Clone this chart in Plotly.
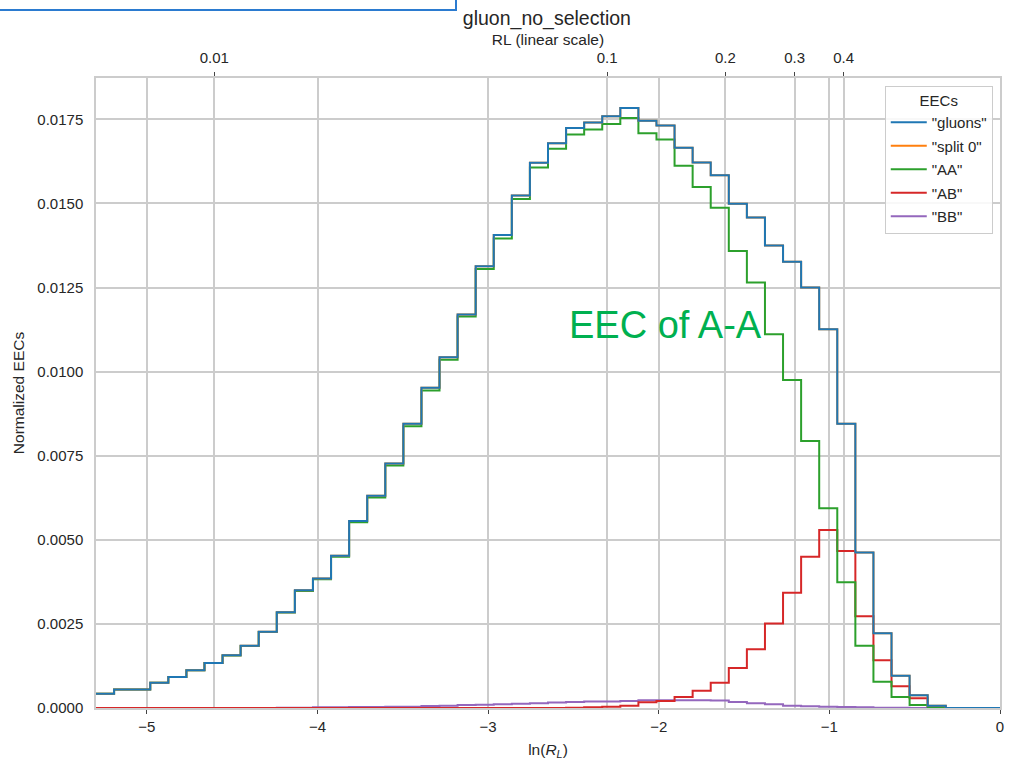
import numpy as np
import plotly.graph_objects as go

# ---- data (bin heights) ----
n_bins = 50
rl_min, rl_max = 0.005, 1.0

gluons = [0.00042, 0.00055, 0.00055, 0.00075, 0.00092, 0.00112, 0.00134, 0.00157, 0.00185, 0.00227,
          0.00285, 0.00350, 0.00385, 0.00453, 0.00556, 0.00631, 0.00727, 0.00845, 0.00952, 0.01043,
          0.01170, 0.01313, 0.01406, 0.01524, 0.01621, 0.01679, 0.01724, 0.01741, 0.01759, 0.01784,
          0.01746, 0.01732, 0.01666, 0.01622, 0.01584, 0.01499, 0.01458, 0.01375, 0.01327, 0.01250,
          0.01126, 0.00845, 0.00462, 0.00222, 0.00096, 0.00038, 0.00007, 0.0, 0.0, 0.0]
split0 = list(gluons)
AA = [0.00042, 0.00055, 0.00055, 0.00075, 0.00092, 0.00112, 0.00134, 0.00156, 0.00184, 0.00226,
      0.00284, 0.00348, 0.00383, 0.00450, 0.00552, 0.00626, 0.00721, 0.00838, 0.00944, 0.01035,
      0.01164, 0.01305, 0.01396, 0.01513, 0.01607, 0.01663, 0.01705, 0.01720, 0.01736, 0.01754,
      0.01709, 0.01690, 0.01612, 0.01549, 0.01487, 0.01359, 0.01265, 0.01111, 0.00975, 0.00794,
      0.00594, 0.00374, 0.00185, 0.00078, 0.00033, 0.00009, 0.00002, 0.0, 0.0, 0.0]
AB = [0.0, 0.0, 0.0, 0.0, 0.0, 0.0, 0.0, 0.0, 0.0, 0.0,
      0.0, 0.0, 0.0, 0.0, 0.0, 0.0, 0.0, 0.0, 0.0, 0.0,
      0.0, 0.0, 0.0, 0.0, 0.0, 0.0, 0.00001, 0.00002, 0.00004, 0.00007,
      0.00017, 0.00021, 0.00033, 0.00051, 0.00075, 0.00119, 0.00175, 0.00251, 0.00343, 0.00450,
      0.00529, 0.00467, 0.00273, 0.00142, 0.00065, 0.00029, 0.00005, 0.0, 0.0, 0.0]
BB = [0.0, 0.0, 0.0, 0.0, 0.0, 0.0, 0.0, 0.0, 0.0, 0.0,
      0.00001, 0.00001, 0.00002, 0.00002, 0.00003, 0.00003, 0.00004, 0.00004, 0.00006, 0.00007,
      0.00009, 0.00010, 0.00011, 0.00013, 0.00014, 0.00016, 0.00018, 0.00019, 0.00019, 0.00021,
      0.00023, 0.00023, 0.00023, 0.00023, 0.00022, 0.00018, 0.00014, 0.00011, 0.00007, 0.00005,
      0.00004, 0.00003, 0.00002, 0.00001, 0.00001, 0.0, 0.0, 0.0, 0.0, 0.0]

series_names = ['"gluons"', '"split 0"', '"AA"', '"AB"', '"BB"']
series_values = [gluons, split0, AA, AB, BB]
series_colors = ["#1f77b4", "#ff7f0e", "#2ca02c", "#d62728", "#9467bd"]

top_tick_vals = [0.01, 0.1, 0.2, 0.3, 0.4]
top_tick_text = ["0.01", "0.1", "0.2", "0.3", "0.4"]
bottom_ticks = [-5, -4, -3, -2, -1, 0]
bottom_tick_text = ["−5", "−4", "−3", "−2", "−1", "0"]
y_ticks = [0.0, 0.0025, 0.005, 0.0075, 0.01, 0.0125, 0.015, 0.0175]

edges = np.linspace(np.log(rl_min), np.log(rl_max), n_bins + 1)
FONT = "Arial, Liberation Sans, sans-serif"
GRID = "#cccccc"
TXT = "#262626"

fig = go.Figure()
for i in reversed(range(len(series_names))):
    vals = series_values[i]
    fig.add_trace(go.Scatter(
        x=list(edges), y=list(vals) + [vals[-1]],
        mode="lines", line=dict(shape="hv", color=series_colors[i], width=2),
        name=series_names[i], legendrank=i + 1, legendgroup=f"g{i}",
    ))

fig.add_trace(go.Scatter(x=[edges[0], edges[-1]], y=[0, 0], xaxis="x2", mode="lines",
                         line=dict(width=0), showlegend=False, hoverinfo="skip"))

xr = [float(edges[0]), float(edges[-1])]
fig.update_layout(
    width=1009, height=762,
    margin=dict(l=96, r=9, t=78, b=54, autoexpand=False),
    paper_bgcolor="white", plot_bgcolor="white",
    font=dict(family=FONT, size=15, color=TXT),
    title=dict(text="gluon_no_selection", x=0.542, xanchor="center", y=0.976, yanchor="middle",
               font=dict(size=19.5, color=TXT)),
    xaxis=dict(range=xr, tickvals=bottom_ticks, ticktext=bottom_tick_text, automargin=False,
               showgrid=True, gridcolor=GRID, gridwidth=1.5, zeroline=False,
               showline=True, linecolor=GRID, linewidth=1.5,
               ticks="outside", ticklen=4, tickcolor="#444", tickwidth=1,
               tickfont=dict(size=15),
               title=dict(text="ln(<i>R</i><sub><i>L</i></sub>)", standoff=10, font=dict(size=15.5))),
    xaxis2=dict(range=xr, overlaying="x", side="top", anchor="y", automargin=False,
                tickvals=[float(np.log(v)) for v in top_tick_vals], ticktext=top_tick_text,
                showgrid=True, gridcolor=GRID, gridwidth=1.5, zeroline=False,
                showline=True, linecolor=GRID, linewidth=1.5,
                ticks="outside", ticklen=4, tickcolor="#444", tickwidth=1,
                ticklabelstandoff=3, tickfont=dict(size=15),
                title=dict(text="RL (linear scale)", standoff=0, font=dict(size=15.5))),
    yaxis=dict(range=[0, 0.01873], tickvals=y_ticks, tickformat=".4f", automargin=False,
               showgrid=True, gridcolor=GRID, gridwidth=1.5, zeroline=False,
               showline=True, linecolor=GRID, linewidth=1.5, mirror=True,
               ticks="", ticklabelstandoff=8, tickfont=dict(size=15),
               title=dict(text="Normalized EECs", standoff=9, font=dict(size=15.5))),
    legend=dict(x=0.992, xanchor="right", y=0.988, yanchor="top",
                bgcolor="rgba(255,255,255,0.85)", bordercolor=GRID, borderwidth=1,
                title=dict(text="EECs", side="top center", font=dict(size=15)),
                font=dict(size=15), tracegroupgap=1, itemwidth=36),
)

fig.add_annotation(x=-1.96, y=0.0114, xref="x", yref="y", text="EEC of A-A", showarrow=False,
                   font=dict(size=38, color="#00b050", family=FONT))

# partially cut-off blue box at the top-left
fig.add_shape(type="rect", xref="paper", yref="paper",
              x0=-100 / 904, x1=(456 - 96) / 904, y0=(708 - 10) / 630, y1=(708 + 30) / 630,
              line=dict(color="#2b7bd0", width=2), fillcolor="rgba(0,0,0,0)")

fig.write_html("out.html")
